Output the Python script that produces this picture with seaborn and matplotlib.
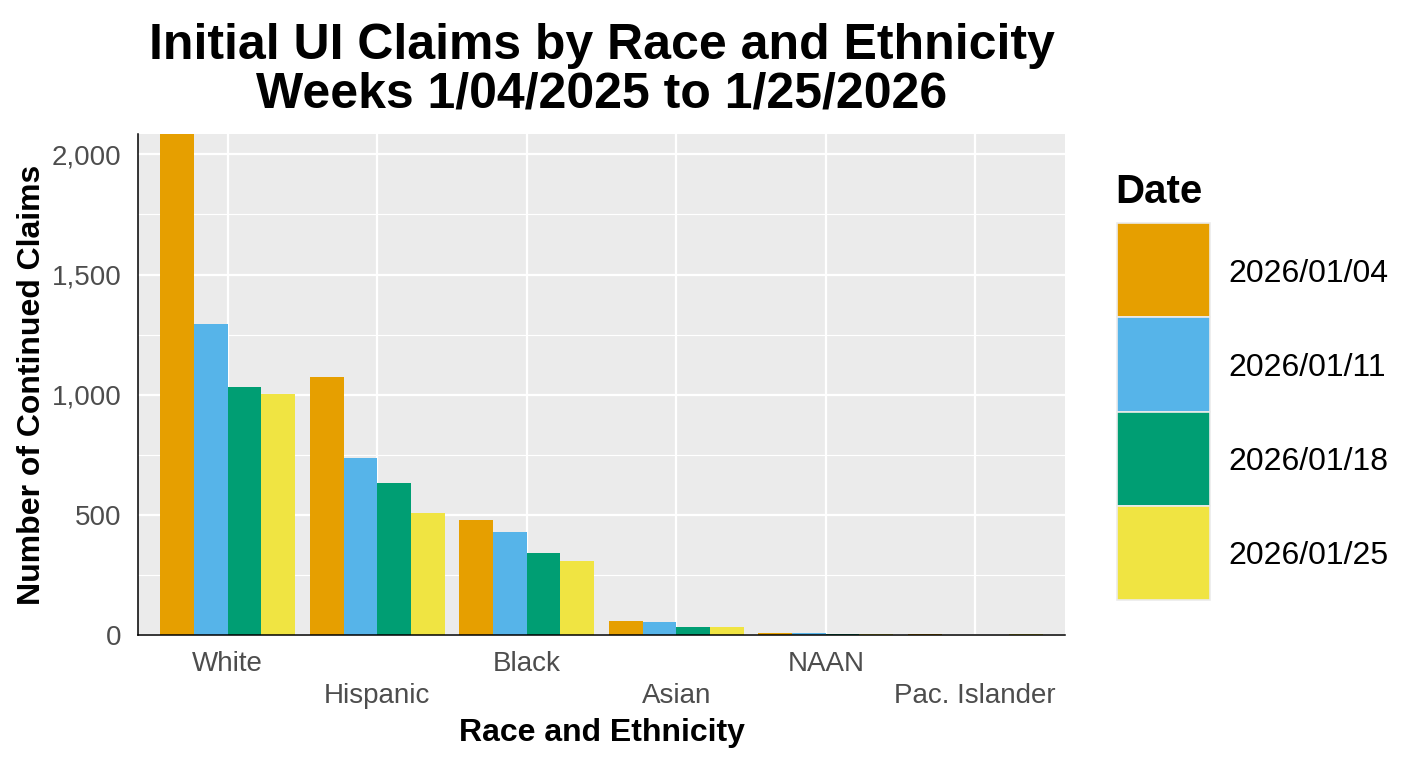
import matplotlib
matplotlib.use("Agg")
import matplotlib.pyplot as plt
import seaborn as sns
import pandas as pd
import numpy as np
from matplotlib.patches import Patch, Rectangle
from matplotlib.legend_handler import HandlerPatch
from matplotlib.ticker import MultipleLocator, FuncFormatter

# ---- data ----
categories = ["White", "Hispanic", "Black", "Asian", "NAAN", "Pac. Islander"]
dates = ["2026/01/04", "2026/01/11", "2026/01/18", "2026/01/25"]
claims_0104 = [2085, 1073, 479, 58, 7, 4]
claims_0111 = [1294, 737, 429, 54, 7, 0]
claims_0118 = [1031, 633, 342, 33, 3, 0]
claims_0125 = [1002, 507, 308, 33, 6, 4]
colors = ["#E69F00", "#56B4E9", "#009E73", "#F0E442"]

title = "Initial UI Claims by Race and Ethnicity\nWeeks 1/04/2025 to 1/25/2026"
xlabel = "Race and Ethnicity"
ylabel = "Number of Continued Claims"
legend_title = "Date"

series = [claims_0104, claims_0111, claims_0118, claims_0125]
rows = []
for d, vals in zip(dates, series):
    for c, v in zip(categories, vals):
        rows.append({"race": c, "claims": v, "date": d})
df = pd.DataFrame(rows)

sns.set_theme(style="darkgrid")
plt.rcParams["font.family"] = ["Liberation Sans", "DejaVu Sans"]

W, H = 1423, 766
fig = plt.figure(figsize=(W / 100, H / 100), dpi=100)
ax = fig.add_axes([138 / W, 1 - 635 / H, (1065 - 138) / W, (635 - 134) / H])
ax.set_facecolor("#EBEBEB")

sns.barplot(data=df, x="race", y="claims", hue="date", order=categories,
            hue_order=dates, palette=colors, width=0.9, saturation=1,
            linewidth=0, gap=0, ax=ax, legend=False)

ax.set_xlim(-0.6, len(categories) - 1 + 0.6)
ax.set_ylim(0, max(claims_0104))
ax.set_axisbelow(True)
ax.yaxis.set_major_locator(MultipleLocator(500))
ax.yaxis.set_minor_locator(MultipleLocator(250))
ax.yaxis.set_major_formatter(FuncFormatter(lambda v, p: f"{int(v):,}"))
ax.grid(which="major", axis="both", color="white", linewidth=1.6)
ax.grid(which="minor", axis="y", color="white", linewidth=0.8)
ax.tick_params(axis="y", which="minor", length=0)
ax.tick_params(axis="both", which="major", length=5, width=1.6, color="#333333",
               labelsize=20, labelcolor="#4D4D4D")
ax.tick_params(axis="y", pad=7)
ax.tick_params(axis="x", pad=6.5)

labels = [c if i % 2 == 0 else "\n" + c for i, c in enumerate(categories)]
ax.set_xticks(range(len(categories)))
ax.set_xticklabels(labels, linespacing=1.32)

for s in ["top", "right"]:
    ax.spines[s].set_visible(False)
for s in ["left", "bottom"]:
    ax.spines[s].set_visible(True)
    ax.spines[s].set_color("black")
    ax.spines[s].set_linewidth(1.1)

ax.set_xlabel(xlabel, fontsize=23, fontweight="bold", color="black", labelpad=6)
ax.set_ylabel(ylabel, fontsize=23, fontweight="bold", color="black", labelpad=3.5)
ax.set_title(title, fontsize=36, fontweight="bold", color="black", pad=19,
             linespacing=1.08)

# legend
fs = 23
def key_patch(legend, orig_handle, xdescent, ydescent, width, height, fontsize):
    return Rectangle((-xdescent, -ydescent + 0.09 * fontsize), width, height)

handles = [Patch(facecolor=c, edgecolor="#EBEBEB", linewidth=1.2) for c in colors]
leg = fig.legend(handles, dates, loc="upper left",
                 bbox_to_anchor=(1117 / W, 1 - 226 / H), frameon=False,
                 fontsize=fs, handlelength=2.92, handleheight=4.16,
                 handletextpad=0.56, labelspacing=0, borderpad=0, borderaxespad=0,
                 labelcolor="black",
                 handler_map={Patch: HandlerPatch(patch_func=key_patch)})
fig.text(1115 / W, 1 - 203 / H, legend_title, fontsize=29, fontweight="bold",
         ha="left", va="baseline", color="black")

fig.savefig("out.png", dpi=100, facecolor="white")
